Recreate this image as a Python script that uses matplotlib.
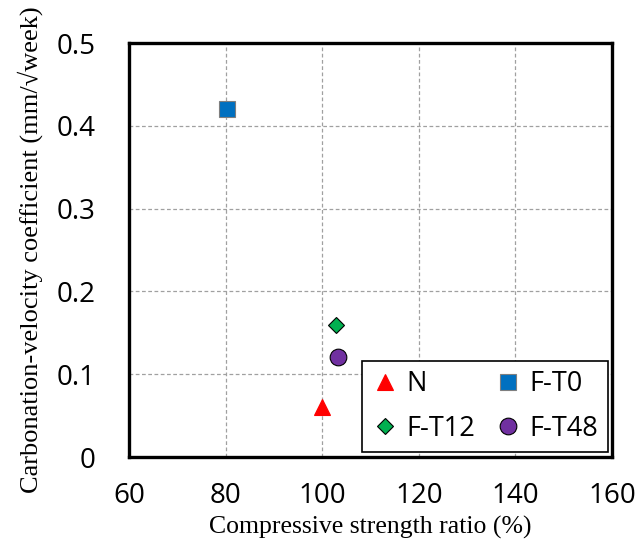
import matplotlib
matplotlib.use("Agg")
import matplotlib.pyplot as plt
from matplotlib.ticker import MultipleLocator

labels = ["N", "F-T0", "F-T12", "F-T48"]
strength_ratio = [100.0, 80.3, 102.8, 103.3]
carb_coeff = [0.06, 0.42, 0.16, 0.121]
markers = ["^", "s", "D", "o"]
colors = ["#FF0000", "#0070C0", "#00B050", "#7030A0"]
edgecolors = ["#FF0000", "#7f7f7f", "#000000", "#000000"]
sizes = [12, 11.5, 8.5, 12]

fig = plt.figure(figsize=(6.36, 5.39), dpi=100)
ax = fig.add_axes([129/636, 1-457/539, (612-129)/636, (457-43)/539])

handles = []
for lab, x, y, m, c, ec, s in zip(labels, strength_ratio, carb_coeff, markers, colors, edgecolors, sizes):
    h, = ax.plot([x], [y], linestyle="none", marker=m, markersize=s, markerfacecolor=c,
                 markeredgecolor=ec, markeredgewidth=0.8, label=lab, zorder=3)
    handles.append(h)

ax.set_xlim(60, 160)
ax.set_ylim(0, 0.5)
ax.xaxis.set_major_locator(MultipleLocator(20))
ax.set_yticks([0, 0.1, 0.2, 0.3, 0.4, 0.5])
ax.set_yticklabels(["0", "0.1", "0.2", "0.3", "0.4", "0.5"])
ax.grid(True, linestyle=(0, (3, 2)), color="#a0a0a0", linewidth=0.9)
ax.set_axisbelow(True)
ax.tick_params(length=0, labelsize=20)
ax.tick_params(axis="x", pad=18)
ax.tick_params(axis="y", pad=24)
for t in ax.get_xticklabels() + ax.get_yticklabels():
    t.set_fontfamily("Open Sans")
for sp in ax.spines.values():
    sp.set_linewidth(2.4)
    sp.set_color("black")

ax.set_xlabel("Compressive strength ratio (%)", fontfamily="Liberation Serif", fontsize=18.5, labelpad=4)
ax.set_ylabel("Carbonation-velocity coefficient (mm/\u221aweek)",
              fontfamily=["Liberation Serif", "DejaVu Serif"], fontsize=19, labelpad=10)

# row-major order: N, F-T0 / F-T12, F-T48  -> column-major handles
order = [0, 2, 1, 3]
leg = ax.legend([handles[i] for i in order], [labels[i] for i in order],
                loc="lower right", ncol=2, frameon=True, fancybox=False, shadow=False,
                prop={"family": "Open Sans", "size": 19.5}, handletextpad=0.3,
                columnspacing=0.7, borderpad=0.35, labelspacing=0.6,
                bbox_to_anchor=(1.0 - 4/483, 5/414), borderaxespad=0, handlelength=1.0)
leg.get_frame().set_edgecolor("black")
leg.get_frame().set_linewidth(1.2)
leg.get_frame().set_alpha(1)

fig.savefig("out.png", dpi=100)
